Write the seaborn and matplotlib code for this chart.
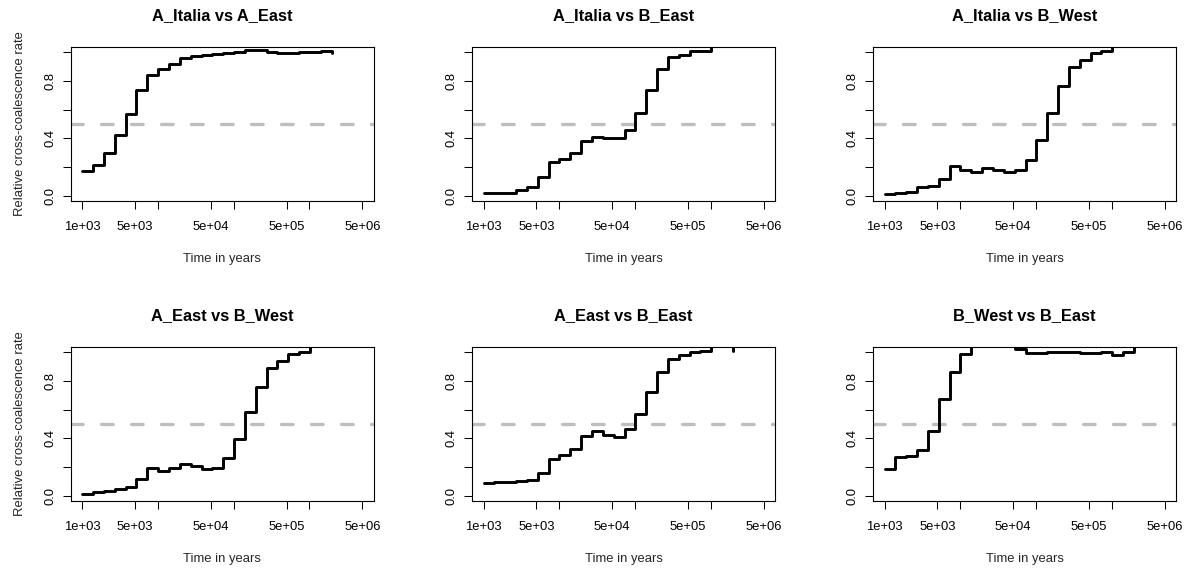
import matplotlib
matplotlib.use("Agg")
import matplotlib.pyplot as plt
from matplotlib.ticker import NullLocator
import seaborn as sns
import pandas as pd

# ---- data ----
times = [1000, 1390, 1930, 2690, 3740, 5200, 7240, 10070, 14000, 19470,
         27080, 37670, 52390, 72870, 101400, 141000, 196100, 272700,
         379300, 527600, 733800, 1020600, 1419600, 1974500]

titles = ["A_Italia vs A_East", "A_Italia vs B_East", "A_Italia vs B_West",
          "A_East vs B_West", "A_East vs B_East", "B_West vs B_East"]

italia_aeast = [0.172, 0.214, 0.298, 0.421, 0.572, 0.740, 0.844, 0.881, 0.921, 0.963,
                0.977, 0.985, 0.990, 0.995, 1.005, 1.015, 1.015, 1.003, 0.993, 0.993,
                1.005, 1.005, 1.012, 0.993]
italia_beast = [0.020, 0.016, 0.020, 0.040, 0.060, 0.128, 0.235, 0.258, 0.295, 0.379,
                0.409, 0.402, 0.402, 0.460, 0.574, 0.737, 0.884, 0.970, 0.979, 1.009,
                1.012, 1.045, 1.045, 1.045]
italia_bwest = [0.014, 0.020, 0.026, 0.058, 0.067, 0.116, 0.205, 0.177, 0.163, 0.193,
                0.181, 0.163, 0.179, 0.251, 0.388, 0.579, 0.765, 0.900, 0.944, 0.993,
                1.009, 1.100, 1.100, 1.100]
aeast_bwest = [0.014, 0.023, 0.033, 0.047, 0.058, 0.119, 0.191, 0.173, 0.194, 0.219,
               0.208, 0.184, 0.196, 0.266, 0.399, 0.583, 0.756, 0.889, 0.942, 0.987,
               1.005, 1.100, 1.100, 1.100]
aeast_beast = [0.086, 0.093, 0.093, 0.103, 0.112, 0.161, 0.259, 0.282, 0.329, 0.415,
               0.448, 0.427, 0.413, 0.464, 0.571, 0.723, 0.865, 0.956, 0.982, 1.005,
               1.010, 1.100, 1.100, 1.012]
bwest_beast = [0.184, 0.271, 0.278, 0.320, 0.448, 0.672, 0.863, 0.990, 1.042, 1.100,
               1.100, 1.100, 1.026, 0.995, 0.995, 1.005, 1.005, 1.005, 0.995, 0.995,
               1.000, 0.984, 1.000, 1.100]

series = [italia_aeast, italia_beast, italia_bwest,
          aeast_bwest, aeast_beast, bwest_beast]

x_ticks = [1e3, 5e3, 1e4, 5e4, 1e5, 5e5, 1e6, 5e6]
x_tick_labels = ["1e+03", "5e+03", "", "5e+04", "", "5e+05", "", "5e+06"]
y_ticks = [0.0, 0.2, 0.4, 0.6, 0.8, 1.0]
y_tick_labels = ["0.0", "", "0.4", "", "0.8", ""]
threshold = 0.5

# ---- style ----
sns.set_style("white")
plt.rcParams["font.family"] = ["Liberation Sans", "DejaVu Sans"]
plt.rcParams["axes.edgecolor"] = "black"
plt.rcParams["text.color"] = "black"

fig = plt.figure(figsize=(11.92, 5.75), dpi=100)
W, H = 1192.0, 575.0
lefts = [71.0, 472.3, 873.3]
tops = [46.7, 346.7]
aw, ah = 302.5, 154.7

for i, (title, vals) in enumerate(zip(titles, series)):
    r, c = divmod(i, 3)
    ax = fig.add_axes([lefts[c] / W, 1 - (tops[r] + ah) / H, aw / W, ah / H])
    df = pd.DataFrame({"time": times, "rate": vals})
    ax.axhline(threshold, color="#BEBEBE", lw=2.4, dashes=(3.5, 5.5),
               dash_capstyle="round", zorder=1)
    sns.lineplot(data=df, x="time", y="rate", ax=ax, estimator=None, sort=False,
                 color="black", lw=2.1, drawstyle="steps-post", zorder=2)
    ax.set_xscale("log")
    ax.set_xlim(711, 7.03e6)
    ax.set_ylim(-0.04, 1.04)
    ax.set_xticks(x_ticks)
    ax.set_xticklabels(x_tick_labels)
    ax.xaxis.set_minor_locator(NullLocator())
    ax.set_yticks(y_ticks)
    ax.set_yticklabels(y_tick_labels, rotation=90, va="center")
    ax.tick_params(axis="both", which="major", direction="out", length=5.8,
                   width=0.75, color="black", labelsize=9.4, labelcolor="black",
                   bottom=True, left=True, top=False, right=False)
    ax.tick_params(axis="x", pad=8.5)
    ax.tick_params(axis="y", pad=5.0)
    for s in ax.spines.values():
        s.set_visible(True)
        s.set_linewidth(0.8)
        s.set_color("black")
    ax.set_title(title, fontsize=11.8, fontweight="bold", pad=19.2)
    ax.set_xlabel("Time in years", fontsize=9.4)
    ax.xaxis.set_label_coords(0.5, -0.336)
    if c == 0:
        ax.set_ylabel("Relative cross-coalescence rate", fontsize=9.4)
        ax.yaxis.set_label_coords(-0.148, 0.5)
    else:
        ax.set_ylabel("")

fig.savefig("out.png", dpi=100, facecolor="white")
